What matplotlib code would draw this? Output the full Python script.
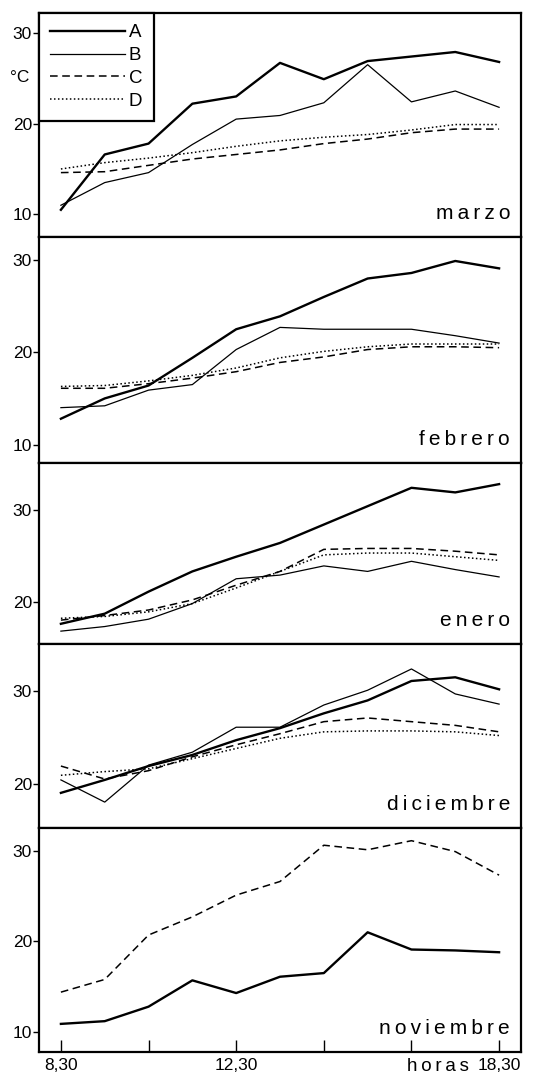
import matplotlib.pyplot as plt
import numpy as np

plt.rcParams['font.family'] = ['Liberation Sans', 'DejaVu Sans']

# horas de medida (8,30 ... 18,30)
hours = [8.5, 9.5, 10.5, 11.5, 12.5, 13.5, 14.5, 15.5, 16.5, 17.5, 18.5]
tick_hours = [8.5, 10.5, 12.5, 14.5, 16.5, 18.5]
tick_labels = ['8,30', '', '12,30', '', '', '18,30']

marzo_A = [10.5, 16.6, 17.8, 22.2, 23.0, 26.7, 24.9, 26.9, 27.4, 27.9, 26.8]
marzo_B = [11.0, 13.5, 14.6, 17.7, 20.5, 20.9, 22.3, 26.5, 22.4, 23.6, 21.8]
marzo_C = [14.6, 14.7, 15.4, 16.1, 16.6, 17.1, 17.8, 18.3, 19.0, 19.4, 19.4]
marzo_D = [15.0, 15.7, 16.2, 16.8, 17.5, 18.1, 18.5, 18.8, 19.3, 19.9, 19.9]

febrero_A = [12.8, 15.0, 16.4, 19.4, 22.5, 23.9, 26.0, 28.0, 28.6, 29.9, 29.1]
febrero_B = [14.0, 14.2, 15.9, 16.5, 20.3, 22.7, 22.5, 22.5, 22.5, 21.8, 21.0]
febrero_C = [16.1, 16.1, 16.6, 17.2, 17.9, 18.9, 19.5, 20.3, 20.6, 20.6, 20.5]
febrero_D = [16.3, 16.4, 16.9, 17.5, 18.3, 19.4, 20.1, 20.6, 20.9, 20.9, 20.9]

enero_A = [17.6, 18.7, 21.1, 23.3, 24.9, 26.4, 28.4, 30.4, 32.4, 31.9, 32.8]
enero_B = [16.8, 17.3, 18.1, 19.8, 22.5, 22.9, 23.9, 23.3, 24.4, 23.5, 22.7]
enero_C = [18.0, 18.5, 19.1, 20.2, 21.8, 23.3, 25.7, 25.8, 25.8, 25.5, 25.1]
enero_D = [18.2, 18.4, 18.9, 19.8, 21.5, 23.3, 25.1, 25.3, 25.3, 24.9, 24.5]

diciembre_A = [19.0, 20.4, 21.9, 23.1, 24.7, 26.0, 27.6, 29.0, 31.1, 31.5, 30.2]
diciembre_B = [20.4, 18.0, 22.0, 23.4, 26.1, 26.1, 28.5, 30.1, 32.4, 29.7, 28.6]
diciembre_C = [21.9, 20.5, 21.4, 22.9, 24.2, 25.4, 26.7, 27.1, 26.7, 26.3, 25.6]
diciembre_D = [20.9, 21.3, 21.6, 22.7, 23.8, 24.9, 25.6, 25.7, 25.7, 25.6, 25.2]

noviembre_A = [10.9, 11.2, 12.8, 15.7, 14.3, 16.1, 16.5, 21.0, 19.1, 19.0, 18.8]
noviembre_C = [14.4, 15.8, 20.7, 22.7, 25.1, 26.6, 30.6, 30.1, 31.1, 29.9, 27.3]

months = ['marzo', 'febrero', 'enero', 'diciembre', 'noviembre']
series = [
	{'A': marzo_A, 'B': marzo_B, 'C': marzo_C, 'D': marzo_D},
	{'A': febrero_A, 'B': febrero_B, 'C': febrero_C, 'D': febrero_D},
	{'A': enero_A, 'B': enero_B, 'C': enero_C, 'D': enero_D},
	{'A': diciembre_A, 'B': diciembre_B, 'C': diciembre_C, 'D': diciembre_D},
	{'A': noviembre_A, 'C': noviembre_C},
]
ylims = [(7.5, 32.2), (8.0, 32.5), (15.4, 35.1), (15.2, 35.1), (7.8, 32.5)]
yticks = [[10, 20, 30], [10, 20, 30], [20, 30], [20, 30], [10, 20, 30]]

styles = {
	'A': dict(color='black', lw=1.7, ls='-'),
	'B': dict(color='black', lw=0.9, ls='-'),
	'C': dict(color='black', lw=1.1, ls=(0, (5, 3))),
	'D': dict(color='black', lw=1.1, ls=(0, (1, 1.6))),
}

# panel limits in pixels from the top
edges = [13, 237, 463, 644, 828, 1052]
H = 1082.
left, right = 39 / 541., 521 / 541.
thin = '\u2009'

fig = plt.figure(figsize=(5.41, 10.82), dpi=100)
axs = []
for i in range(5):
	bottom = 1 - edges[i + 1] / H
	height = (edges[i + 1] - edges[i]) / H
	ax = fig.add_axes([left, bottom, right - left, height])
	axs.append(ax)
	for key, vals in series[i].items():
		ax.plot(hours, vals, label=key, **styles[key])
	ax.set_xlim(8.0, 19.0)
	ax.set_ylim(*ylims[i])
	ax.set_yticks(yticks[i])
	ax.tick_params(axis='y', direction='out', length=4, width=1, labelsize=12.5, pad=1)
	for s in ax.spines.values():
		s.set_linewidth(1.6)
	ax.annotate(thin.join(months[i]), xy=(1, 0), xycoords='axes fraction',
				xytext=(-11, 18), textcoords='offset pixels',
				ha='right', va='baseline', fontsize=15)
	if i < 4:
		ax.set_xticks([])
	else:
		ax.set_xticks(tick_hours)
		ax.set_xticklabels(tick_labels)
		ax.tick_params(axis='x', direction='in', length=9, width=1, labelsize=12.5, pad=4)
		ax.text(17.8, -0.026, thin.join('horas'), transform=ax.get_xaxis_transform(),
				ha='right', va='top', fontsize=13.5)

leg = axs[0].legend(loc='upper left', bbox_to_anchor=(0, 1), borderaxespad=0,
					fancybox=False, edgecolor='black', framealpha=1,
					handlelength=4.0, handletextpad=0.2, labelspacing=0.3,
					fontsize=13.5, borderpad=0.6)
leg.get_frame().set_linewidth(1.6)

fig.text(20 / 541., 1 - 78 / H, '°C', ha='center', va='center', fontsize=12.5)

plt.savefig('out.png', dpi=100)
